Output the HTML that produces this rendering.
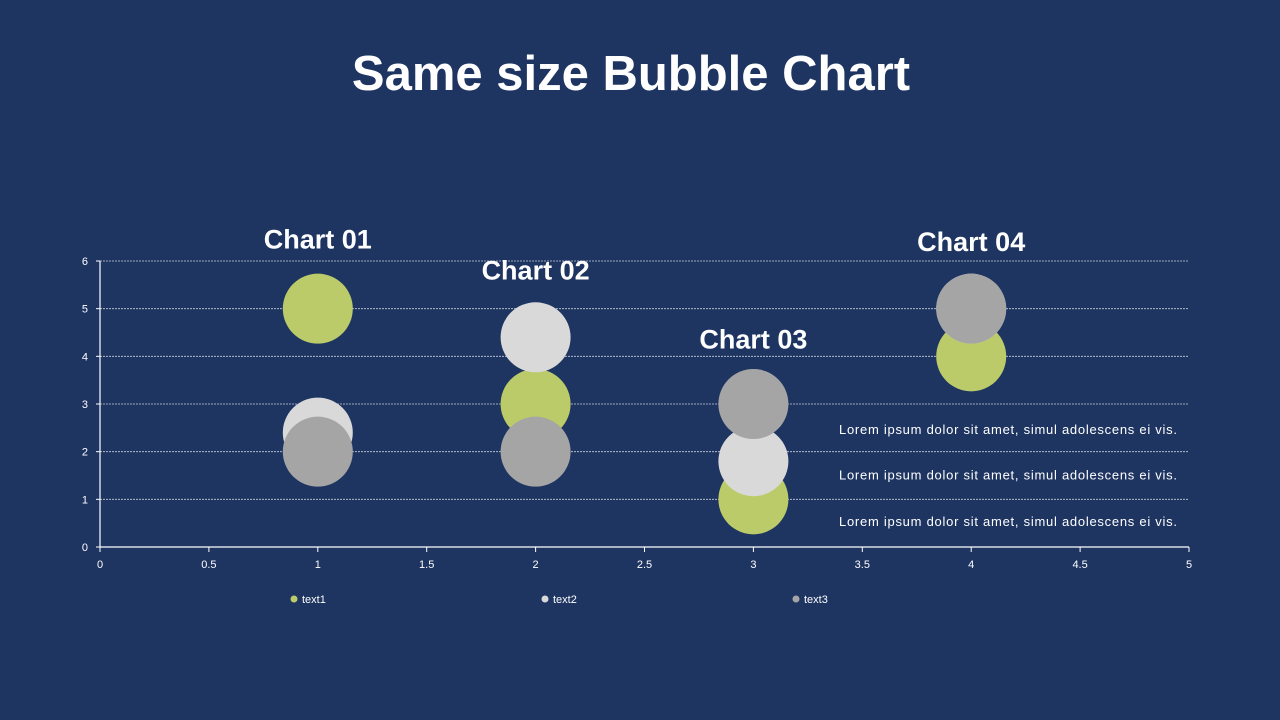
<!DOCTYPE html>
<html><head><meta charset="utf-8"><style>
html,body{margin:0;padding:0;background:#1e3461;}
body{width:1280px;height:720px;overflow:hidden;position:relative;font-family:"Liberation Sans",sans-serif;}
#title{position:absolute;left:0;width:1262px;top:46px;text-align:center;color:#fff;font-size:49px;font-weight:bold;}
</style></head><body>
<div id="title">Same size Bubble Chart</div>
<svg id="chart" width="1280" height="720" style="position:absolute;left:0;top:0"></svg>
<script>
const xTicks=[0,0.5,1,1.5,2,2.5,3,3.5,4,4.5,5];
const yTicks=[0,1,2,3,4,5,6];
const categories=[1,2,3,4];
const text1=[5,3,1,4];
const text2=[2.4,4.4,1.8,5];
const text3=[2,2,3,5];
const seriesNames=['text1','text2','text3'];
const colors=['#bccb69','#d9d9d9','#a5a5a5'];
const chartLabels=['Chart 01','Chart 02','Chart 03','Chart 04'];
const chartLabelY=[6.45,5.8,4.35,6.4];
const notes=['Lorem  ipsum dolor  sit amet,  simul adolescens ei vis.','Lorem  ipsum dolor  sit amet,  simul adolescens ei vis.','Lorem  ipsum dolor  sit amet,  simul adolescens ei vis.'];
const noteY=[2.45,1.5,0.52];
const X0=100,X1=1189,Y0=547,Y1=261;
const xs=v=>X0+(X1-X0)*v/5;
const ys=v=>Y0-(Y0-Y1)*v/6;
const svg=document.getElementById('chart');
const NS='http://www.w3.org/2000/svg';
function mk(t,a){const e=document.createElementNS(NS,t);for(const k in a)e.setAttribute(k,a[k]);svg.appendChild(e);return e;}
yTicks.forEach(v=>{
  if(v>0){const g=mk('line',{x1:X0,x2:X1,y1:ys(v),y2:ys(v),stroke:'#c8cfdc','stroke-width':0.8,'stroke-dasharray':'2,1'});
  
  }
  const t=mk('text',{x:X0-12,y:ys(v)+4,fill:'#fff','font-size':11,'text-anchor':'end'});t.textContent=v;
  
  
  mk('line',{x1:X0-4,x2:X0,y1:ys(v),y2:ys(v),stroke:'#fff'});
});
xTicks.forEach(v=>{
  mk('line',{x1:xs(v),x2:xs(v),y1:Y0,y2:Y0+5,stroke:'#fff'});
  const t=mk('text',{x:xs(v),y:Y0+21,fill:'#fff','font-size':11,'text-anchor':'middle'});t.textContent=v;
  
  
});
const ax=mk('line',{x1:X0,x2:X1,y1:Y0,y2:Y0,stroke:'#fff','stroke-width':1.2});


const ay=mk('line',{x1:X0,x2:X0,y1:Y0,y2:Y1,stroke:'#fff','stroke-width':1.2});


[text1,text2,text3].forEach((s,si)=>{
  s.forEach((v,i)=>{
    const c=mk('circle',{cx:xs(categories[i]),cy:ys(v),r:35,fill:colors[si]});
    
    
  });
});
chartLabels.forEach((l,i)=>{
  const t=mk('text',{x:xs(categories[i]),y:ys(chartLabelY[i])+9,fill:'#fff','font-size':27,'font-weight':'bold','text-anchor':'middle'});t.textContent=l;
  
  
});
notes.forEach((n,i)=>{
  const t=mk('text',{x:839,y:ys(noteY[i])+4,fill:'#fff','font-size':13,'textLength':338,'lengthAdjust':'spacing','xml:space':'preserve'});t.textContent=n;
  
  
});
const legX=[294,545,796];
seriesNames.forEach((n,i)=>{
  const c=mk('circle',{cx:legX[i],cy:599,r:3.5,fill:colors[i]});
  
  
  const t=mk('text',{x:legX[i]+8,y:603,fill:'#fff','font-size':11});t.textContent=n;
  
  
});
</script>
</body></html>
